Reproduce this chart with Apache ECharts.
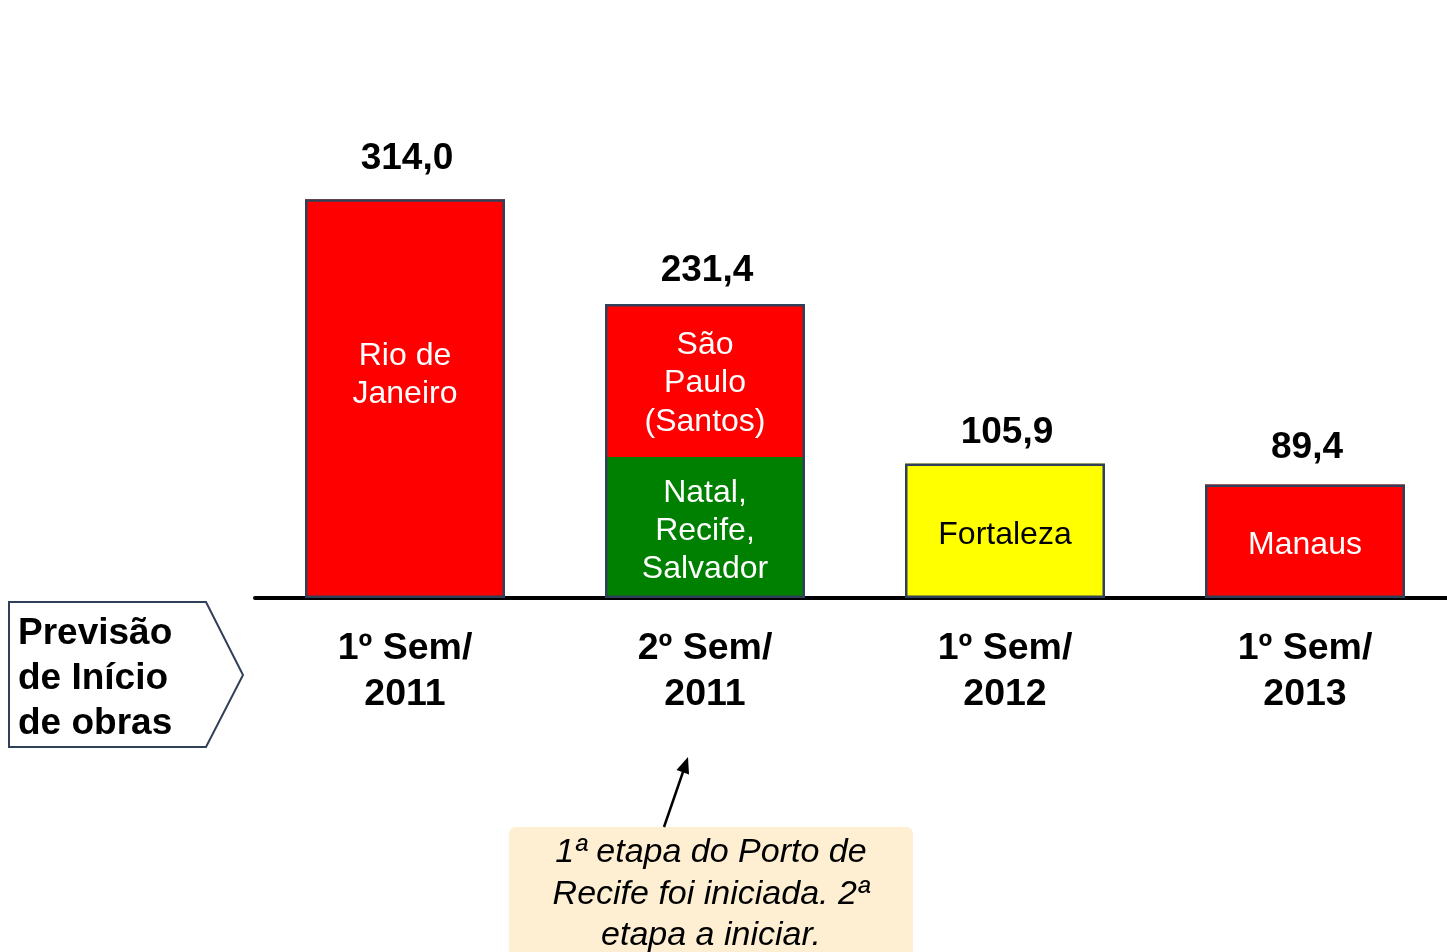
<!DOCTYPE html>
<html>
<head>
<meta charset="utf-8">
<script src="https://cdn.jsdelivr.net/npm/echarts@6/dist/echarts.min.js"></script>
<style>
html,body{margin:0;padding:0;background:#fff;}
#chart{width:1447px;height:952px;}
</style>
</head>
<body>
<div id="chart"></div>
<script>
// ---- data ----
const categories = ['1º Sem/\n2011', '2º Sem/\n2011', '1º Sem/\n2012', '1º Sem/\n2013'];
const totals = [314.0, 231.4, 105.9, 89.4];
const baseValues = [314.0, 111.0, 105.9, 89.4];
const baseNames = ['Rio de\nJaneiro', 'Natal,\nRecife,\nSalvador', 'Fortaleza', 'Manaus'];
const upperValues = [null, 120.4, null, null];
const upperNames = ['', 'São\nPaulo\n(Santos)', '', ''];
const sideLabel = 'Previsão\nde Início\nde obras';
const noteText = '1ª etapa do Porto de\nRecife foi iniciada. 2ª\netapa a iniciar.';

// ---- styles ----
const baseColors = ['#FF0000', '#008000', '#FFFF00', '#FF0000'];
const baseTextColors = ['#FFFFFF', '#FFFFFF', '#000000', '#FFFFFF'];
const totalLabelShift = [-3, 4, 7, 1];
const borderCol = '#2F4058';
const FONT = '"Liberation Sans", Arial, sans-serif';

const chart = echarts.init(document.getElementById('chart'));

const baseData = baseValues.map((v, i) => ({
  value: v,
  itemStyle: { color: baseColors[i] },
  label: {
    show: true,
    position: 'inside',
    formatter: baseNames[i],
    color: baseTextColors[i],
    offset: i === 0 ? [0, -23] : [0, 4]
  }
}));

const upperData = upperValues.map((v, i) => ({
  value: v,
  itemStyle: { color: '#FF0000' },
  label: { show: v != null, position: 'inside', formatter: upperNames[i], color: '#FFFFFF', offset: [0, 3] }
}));

const totalData = totals.map((v, i) => ({
  value: v,
  label: { offset: [2, totalLabelShift[i]] }
}));

const arrowTip = [688, 757];
const arrowTail = [664, 827];

const option = {
  animation: false,
  backgroundColor: '#FFFFFF',
  grid: { left: 255, top: 90, width: 1200, height: 508, outerBoundsMode: 'none', containLabel: false },
  xAxis: {
    type: 'category',
    data: categories,
    axisLine: { show: true, lineStyle: { color: '#000', width: 4 } },
    axisTick: { show: false },
    axisLabel: {
      color: '#000', fontFamily: FONT, fontSize: 37.5, fontWeight: 'bold',
      lineHeight: 46, margin: 28
    }
  },
  yAxis: { type: 'value', min: 0, max: 400, show: false, splitLine: { show: false } },
  series: [
    {
      type: 'bar', stack: 's', barWidth: 200, data: baseData,
      label: { fontFamily: FONT, fontSize: 32, lineHeight: 38 }
    },
    {
      type: 'bar', stack: 's', barWidth: 200, data: upperData,
      label: { fontFamily: FONT, fontSize: 32, lineHeight: 38.5 }
    },
    {
      type: 'bar', barWidth: 200, barGap: '-100%', data: totalData, z: 3,
      itemStyle: { color: 'rgba(0,0,0,0)', borderColor: borderCol, borderWidth: 2.5 },
      label: {
        show: true, position: 'top', distance: 19,
        color: '#000', fontFamily: FONT, fontSize: 37, fontWeight: 'bold', lineHeight: 37,
        formatter: p => p.value.toFixed(1).replace('.', ',')
      }
    }
  ],
  graphic: [
    {
      type: 'polygon',
      shape: { points: [[9, 602], [206, 602], [243, 675], [206, 747], [9, 747]] },
      style: { fill: '#FFFFFF', stroke: borderCol, lineWidth: 2 }
    },
    {
      type: 'text', x: 18, y: 611,
      style: {
        text: sideLabel, font: 'bold 37px ' + FONT, lineHeight: 45,
        fill: '#000', verticalAlign: 'top', align: 'left'
      }
    },
    {
      type: 'rect',
      shape: { x: 509, y: 827, width: 404, height: 150, r: 7 },
      style: { fill: '#FEEFD3' }
    },
    {
      type: 'text', x: 711, y: 832,
      style: {
        text: noteText, font: 'italic 34px ' + FONT, lineHeight: 41.5,
        fill: '#000', align: 'center', verticalAlign: 'top'
      }
    },
    {
      type: 'line',
      shape: { x1: arrowTail[0], y1: arrowTail[1], x2: 684, y2: 769 },
      style: { stroke: '#000', lineWidth: 2.5 }
    },
    {
      type: 'polygon',
      shape: { points: [arrowTip, [689, 774.5], [676.5, 770]] },
      style: { fill: '#000' }
    }
  ]
};

chart.setOption(option);
</script>
</body>
</html>
